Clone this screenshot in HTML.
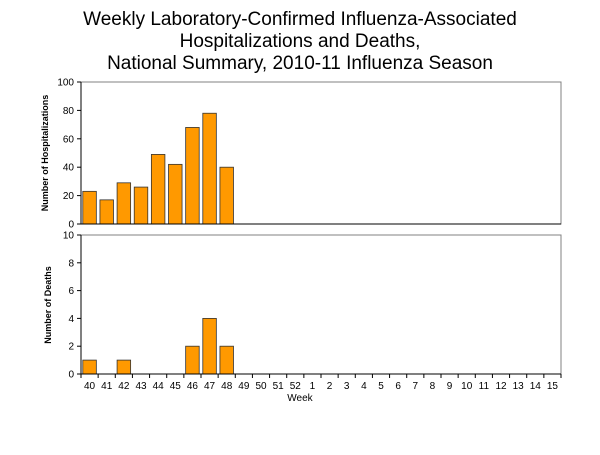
<!DOCTYPE html>
<html><head><meta charset="utf-8"><style>
body{margin:0;background:#fff;width:600px;height:450px;overflow:hidden}
svg{font-family:"Liberation Sans",Arial,sans-serif}
</style></head><body>
<svg width="600" height="450">
<g font-size="19" text-anchor="middle" fill="#000">
<text x="300" y="25">Weekly Laboratory-Confirmed Influenza-Associated</text>
<text x="300" y="47">Hospitalizations and Deaths,</text>
<text x="300" y="69">National Summary, 2010-11 Influenza Season</text>
</g>
<g id="top"></g><g id="bot"></g>
<text x="300" y="401" font-size="10" text-anchor="middle">Week</text>
<text transform="translate(48,153) rotate(-90)" font-size="9" font-weight="bold" text-anchor="middle">Number of Hospitalizations</text>
<text transform="translate(51,305) rotate(-90)" font-size="9" font-weight="bold" text-anchor="middle">Number of Deaths</text>
</svg>
<script>
const weeks=["40","41","42","43","44","45","46","47","48","49","50","51","52","1","2","3","4","5","6","7","8","9","10","11","12","13","14","15"];
const hospitalizations=[23,17,29,26,49,42,68,78,40,null,null,null,null,null,null,null,null,null,null,null,null,null,null,null,null,null,null,null];
const deaths=[1,0,1,0,0,0,2,4,2,null,null,null,null,null,null,null,null,null,null,null,null,null,null,null,null,null,null,null];
const hospTicks=[0,20,40,60,80,100];
const deathTicks=[0,2,4,6,8,10];
const NS="http://www.w3.org/2000/svg";
const X0=81,X1=561,step=(X1-X0)/weeks.length;
function xs(i){return X0+i*step;}
function mk(t,a,p){const e=document.createElementNS(NS,t);for(const k in a)e.setAttribute(k,a[k]);p.appendChild(e);return e;}
function panel(g,vals,ticks,yTop,yBot,max,name,xlabels){
  const ys=v=>yBot-(v/max)*(yBot-yTop);
  const r=mk('rect',{x:X0,y:yTop,width:X1-X0,height:yBot-yTop,fill:'#fff',stroke:'#808080','stroke-width':1},g);
  
  
  vals.forEach((v,i)=>{if(v){const b=mk('rect',{x:xs(i)+1.8,y:ys(v),width:step-3.6,height:yBot-ys(v),fill:'#ff9900',stroke:'#333','stroke-width':0.8},g);
    
    }});
  mk('line',{x1:X0,y1:yTop,x2:X0,y2:yBot,stroke:'#000'},g);
  mk('line',{x1:X0,y1:yBot,x2:X1,y2:yBot,stroke:'#000'},g);
  ticks.forEach(t=>{mk('line',{x1:X0-4,y1:ys(t),x2:X0,y2:ys(t),stroke:'#000'},g);
    const tx=mk('text',{x:X0-7,y:ys(t)+3.5,'font-size':10,'text-anchor':'end'},g);tx.textContent=t;
    
    });
  if(xlabels){for(let i=0;i<=weeks.length;i++)mk('line',{x1:xs(i),y1:yBot,x2:xs(i),y2:yBot+4,stroke:'#000'},g);
    weeks.forEach((w,i)=>{const tx=mk('text',{x:xs(i)+step/2,y:yBot+15,'font-size':10,'text-anchor':'middle'},g);tx.textContent=w;
      
      });}
}
panel(document.getElementById('top'),hospitalizations,hospTicks,82,224,100,'hosp',false);
panel(document.getElementById('bot'),deaths,deathTicks,235,374,10,'deaths',true);
</script>
</body></html>
